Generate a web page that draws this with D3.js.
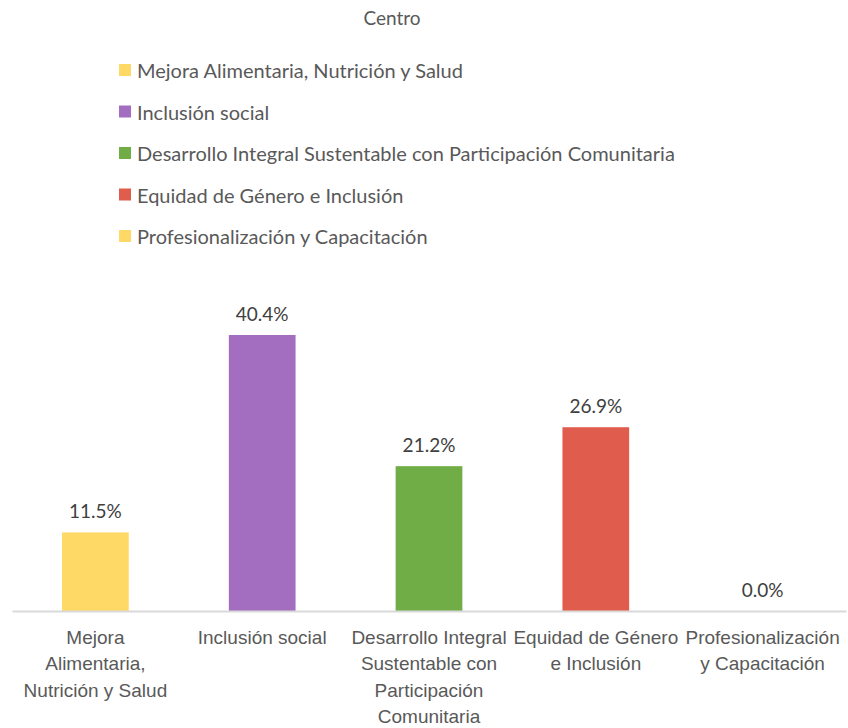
<!DOCTYPE html>
<html>
<head>
<meta charset="utf-8">
<script src="https://cdn.jsdelivr.net/npm/d3@7"></script>
<style>
  body { margin: 0; background: #fff; }
  svg { display: block; font-family: Lato, "Open Sans", sans-serif; }
</style>
</head>
<body>
<div id="chart"></div>
<script>
const width = 848;
const height = 728;
const FONT_SIZE = "19px";

const categories = [
  "Mejora Alimentaria, Nutrición y Salud",
  "Inclusión social",
  "Desarrollo Integral Sustentable con Participación Comunitaria",
  "Equidad de Género e Inclusión",
  "Profesionalización y Capacitación",
];

const tickLabels = [
  ["Mejora", "Alimentaria,", "Nutrición y Salud"],
  ["Inclusión social"],
  ["Desarrollo Integral", "Sustentable con", "Participación", "Comunitaria"],
  ["Equidad de Género", "e Inclusión"],
  ["Profesionalización", "y Capacitación"],
];

const values = [11.5, 40.4, 21.2, 26.9, 0.0];

const colors = ["#FFD966", "#A36EC0", "#70AD47", "#E05C4D", "#FFD966"];

const margin = { left: 12, right: 2 };
const baseline = 611;

const svg = d3.select("#chart")
  .append("svg")
  .attr("width", width)
  .attr("height", height);

svg.append("text")
  .attr("x", 392)
  .attr("y", 17)
  .attr("text-anchor", "middle")
  .attr("dominant-baseline", "central")
  .attr("fill", "#595959")
  .style("font-size", FONT_SIZE)
  .text("Centro");

// legend
const legend = svg.append("g").attr("transform", "translate(119, 70)");
const legendItems = legend.selectAll("g")
  .data(categories)
  .join("g")
  .attr("transform", (d, i) => `translate(0, ${i * 41.5})`);

legendItems.append("rect")
  .attr("x", 0)
  .attr("y", -6)
  .attr("width", 12)
  .attr("height", 12)
  .attr("fill", (d, i) => colors[i]);

legendItems.append("text")
  .attr("x", 18)
  .attr("y", 0)
  .attr("dominant-baseline", "central")
  .attr("fill", "#595959")
  .style("font-size", "20px")
  .text(d => d);

const x = d3.scaleBand()
  .domain(categories)
  .range([margin.left, width - margin.right])
  .paddingInner(0.6)
  .paddingOuter(0.3);

const y = d3.scaleLinear()
  .domain([0, 40.4])
  .range([baseline, 335]);

svg.append("g")
  .selectAll("rect")
  .data(values)
  .join("rect")
  .attr("x", (d, i) => x(categories[i]))
  .attr("y", d => y(d))
  .attr("width", x.bandwidth())
  .attr("height", d => baseline - y(d))
  .attr("fill", (d, i) => colors[i]);

svg.append("g")
  .selectAll("text")
  .data(values)
  .join("text")
  .attr("x", (d, i) => x(categories[i]) + x.bandwidth() / 2)
  .attr("y", d => y(d) - 22)
  .attr("text-anchor", "middle")
  .attr("dominant-baseline", "central")
  .attr("fill", "#404040")
  .style("font-size", FONT_SIZE)
  .text(d => d.toFixed(1) + "%");

// axis
const xAxis = svg.append("g")
  .attr("transform", `translate(0, ${baseline})`)
  .call(d3.axisBottom(x).tickSize(0).tickFormat(""));

xAxis.select(".domain")
  .attr("stroke", "#D9D9D9")
  .attr("stroke-width", 2);

xAxis.selectAll(".tick text").remove();

xAxis.selectAll(".tick")
  .append("text")
  .attr("text-anchor", "middle")
  .attr("fill", "#595959")
  .style("font-size", FONT_SIZE)
  .each(function(d, i) {
    const t = d3.select(this);
    tickLabels[i].forEach((line, j) => {
      t.append("tspan")
        .attr("x", 0)
        .attr("y", 26 + j * 26.5)
        .attr("dominant-baseline", "central")
        .text(line);
    });
  });
</script>
</body>
</html>
